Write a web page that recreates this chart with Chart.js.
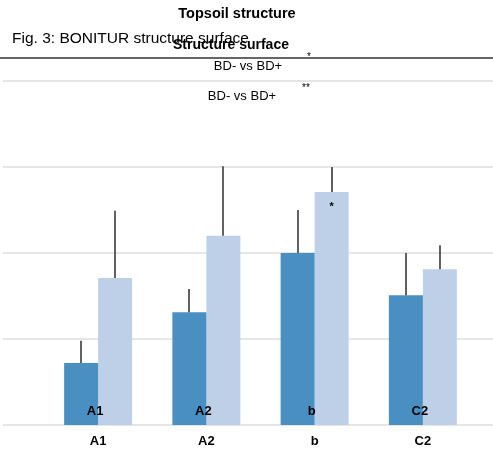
<!DOCTYPE html>
<html>
<head>
<meta charset="utf-8">
<script src="https://cdn.jsdelivr.net/npm/chart.js@4"></script>
<style>
  html, body { margin: 0; padding: 0; background: #fff; }
  #wrap { width: 493px; height: 449px; }
</style>
</head>
<body>
<div id="wrap"><canvas id="chart"></canvas></div>
<script>
// values (no axis labels, grid step taken as 1)
var categories = ['A1', 'A2', 'b', 'C2'];
var seriesNames = ['BD-', 'BD+'];
var bdMinus = [0.72, 1.31, 2.00, 1.51];
var bdPlus = [1.71, 2.20, 2.71, 1.81];
var bdMinusErr = [0.26, 0.27, 0.50, 0.49];
var bdPlusErr = [0.78, 0.81, 0.29, 0.28];
var gridValues = [0, 1, 2, 3, 4];
var barLetters = ['A1', 'A2', 'b', 'C2'];
var plusStars = ['', '', '*', ''];

var FONT = '"Liberation Sans", Arial, sans-serif';

// horizontal grid lines run across the whole figure, not just the plot
var gridPlugin = {
  id: 'fullGrid',
  beforeDatasetsDraw: function(chart) {
    var ctx = chart.ctx;
    var y = chart.scales.y;
    ctx.save();
    ctx.strokeStyle = '#e6e6e6';
    ctx.lineWidth = 2;
    gridValues.forEach(function(v) {
      var py = Math.round(y.getPixelForValue(v));
      ctx.beginPath();
      ctx.moveTo(3, py);
      ctx.lineTo(chart.width, py);
      ctx.stroke();
    });
    ctx.restore();
  }
};

// upper whiskers, letters and stars
var markPlugin = {
  id: 'marks',
  afterDatasetsDraw: function(chart) {
    var ctx = chart.ctx;
    var y = chart.scales.y;
    var x = chart.scales.x;
    var errs = [bdMinusErr, bdPlusErr];
    var vals = [bdMinus, bdPlus];
    ctx.save();
    ctx.strokeStyle = '#3a3a3a';
    ctx.lineWidth = 1.6;
    for (var d = 0; d < 2; d++) {
      var meta = chart.getDatasetMeta(d);
      meta.data.forEach(function(bar, i) {
        var top = y.getPixelForValue(vals[d][i] + errs[d][i]);
        ctx.beginPath();
        ctx.moveTo(Math.round(bar.x), bar.y);
        ctx.lineTo(Math.round(bar.x), top);
        ctx.stroke();
      });
    }

    ctx.fillStyle = '#000';
    ctx.textAlign = 'center';
    ctx.textBaseline = 'alphabetic';
    ctx.font = 'bold 13px ' + FONT;
    barLetters.forEach(function(t, i) {
      ctx.fillText(t, x.getPixelForValue(i) - 3, y.bottom - 10);
    });

    ctx.font = 'bold 11px ' + FONT;
    var plusMeta = chart.getDatasetMeta(1);
    plusStars.forEach(function(s, i) {
      if (!s) return;
      var bar = plusMeta.data[i];
      ctx.fillText(s, bar.x, bar.y + 18);
    });
    ctx.restore();
  },
  afterDraw: function(chart) {
    var ctx = chart.ctx;
    ctx.save();
    ctx.fillStyle = '#000';

    ctx.strokeStyle = '#666';
    ctx.lineWidth = 2;
    ctx.beginPath();
    ctx.moveTo(0, 58);
    ctx.lineTo(chart.width, 58);
    ctx.stroke();

    ctx.textAlign = 'center';
    ctx.font = 'bold 14.5px ' + FONT;
    ctx.fillText('Topsoil structure', 237, 18);

    ctx.textAlign = 'left';
    ctx.font = '15.5px ' + FONT;
    ctx.fillText('Fig. 3: BONITUR structure surface', 12, 43);

    ctx.textAlign = 'center';
    ctx.font = 'bold 14px ' + FONT;
    ctx.fillText('Structure surface', 231, 49);

    ctx.font = '13px ' + FONT;
    ctx.fillText('BD- vs BD+', 248, 70);
    ctx.fillText('BD- vs BD+', 242, 100);

    ctx.font = '10px ' + FONT;
    ctx.fillText('*', 309, 60);
    ctx.fillText('**', 306, 91);
    ctx.restore();
  }
};

var ctx = document.getElementById('chart').getContext('2d');
var myChart = new Chart(ctx, {
  type: 'bar',
  data: {
    labels: categories,
    datasets: [{
      label: seriesNames[0],
      data: bdMinus,
      backgroundColor: '#4a8fc2',
      borderWidth: 0
    }, {
      label: seriesNames[1],
      data: bdPlus,
      backgroundColor: '#bdd0e8',
      borderWidth: 0
    }]
  },
  options: {
    responsive: true,
    maintainAspectRatio: false,
    devicePixelRatio: 1,
    animation: false,
    layout: { padding: { left: 44, right: 16, top: 81, bottom: 0 } },
    datasets: { bar: { categoryPercentage: 0.628, barPercentage: 1 } },
    plugins: {
      legend: { display: false },
      tooltip: { enabled: false }
    },
    scales: {
      x: {
        grid: { display: false },
        border: { display: false },
        afterFit: function(scale) { scale.height = 24; },
        ticks: {
          color: '#000',
          padding: 1,
          font: { family: FONT, size: 13, weight: 'bold' }
        }
      },
      y: {
        display: false,
        min: 0,
        max: 4
      }
    }
  },
  plugins: [gridPlugin, markPlugin]
});
</script>
</body>
</html>
